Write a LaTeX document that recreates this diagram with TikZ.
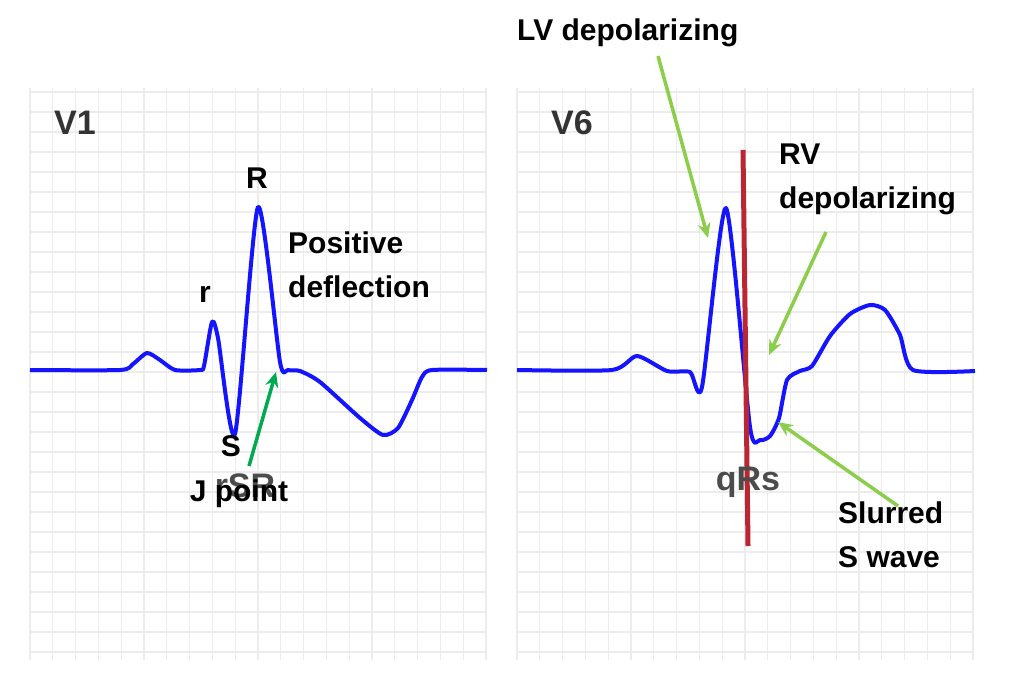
\documentclass[tikz,border=0pt]{standalone}
\usepackage{fontspec}
\setmainfont{Liberation Sans}
\usetikzlibrary{arrows.meta}
\definecolor{ecg}{RGB}{20,20,255}
\definecolor{grid}{RGB}{236,236,236}
\definecolor{lgreen}{RGB}{140,205,75}
\definecolor{dgreen}{RGB}{0,170,80}
\definecolor{redline}{RGB}{185,40,50}
\tikzset{
  lbl/.style={font=\bfseries\fontsize{30}{44}\selectfont, inner sep=0pt, align=left},
  lead/.style={font=\bfseries\fontsize{34}{36}\selectfont, text=black!80, inner sep=0pt},
  ghost/.style={font=\bfseries\fontsize{34}{36}\selectfont, text=black!70, inner sep=0pt},
  trace/.style={ecg, line width=4pt, line join=round},
  garrow/.style={lgreen, line width=3.5pt, -{Stealth[length=15pt,width=13pt]}},
  darrow/.style={dgreen, line width=3.5pt, -{Stealth[length=15pt,width=13pt]}},
}
\begin{document}
\begin{tikzpicture}[x=1pt,y=-1pt]
\useasboundingbox (0,0) rectangle (1024,692);
\fill[white] (0,0) rectangle (1024,692);
% grids
\foreach \xo in {30,517}{
  \foreach \i in {0,...,20}{\draw[grid, line width=1.3pt] (\xo+\i*22.8,88) -- (\xo+\i*22.8,660);}
  \foreach \j in {0,...,28}{\draw[grid, line width=1.3pt] (\xo,92+\j*20) -- (\xo+457,92+\j*20);}
}
% V1 trace
\draw[trace] plot[smooth, tension=0.4] coordinates {(30,370) (120,370) (133,364) (147,353) (160,360) (175,370) (200,370) (204,366) (212,322) (218,338) (235,434) (258,207) (280,362) (288,370) (300,371) (320,382) (360,418) (383,435) (398,428) (412,400) (422,377) (432,370) (487,370)};
% V6 trace
\draw[trace] plot[smooth, tension=0.4] coordinates {(517,370) (612,370) (637,356) (667,371) (690,372) (702,387) (726,208) (750,427) (760,440) (770,436) (779,418) (787,380) (800,371) (812,366) (830,336) (850,314) (870,305) (885,310) (900,335) (913,370) (975,371)};
% red line
\draw[redline, line width=5pt] (743,150) -- (748,546);
% lead names
\node[lead, anchor=west] (v1) at (54,123) {V1};
\node[lead, anchor=west] (v6) at (551,123) {V6};
% V1 labels
\node[lbl] (R) at (257,178) {R};
\node[lbl] (r) at (205,294) {r};
\node[lbl, anchor=north west] (pos) at (288,232) {Positive\\deflection};
\node[lbl] (S) at (231,446) {S};
\node[ghost] (rsr) at (245,486) {rSR};
\node[lbl] (jp) at (239,494) {J point};
\coordinate (jtail) at (249,466);
\coordinate (jtip) at (276,372);
\draw[darrow] (jtail) -- (jtip);
% V6 labels
\node[lbl, anchor=north west] (lv) at (517,19) {LV depolarizing};
\node[lbl, anchor=north west] (rv) at (779,144) {RV\\depolarizing};
\node[ghost] (qrs) at (748,482) {qRs};
\node[lbl, anchor=north west] (sl) at (838,502) {Slurred\\S wave};
\coordinate (lvtail) at (658,56);
\coordinate (lvtip) at (708,238);
\coordinate (rvtail) at (826,232);
\coordinate (rvtip) at (769,355);
\coordinate (sltail) at (898,506);
\coordinate (sltip) at (778,422);
\draw[garrow] (lvtail) -- (lvtip);
\draw[garrow] (rvtail) -- (rvtip);
\draw[garrow] (sltail) -- (sltip);
\end{tikzpicture}
\end{document}
